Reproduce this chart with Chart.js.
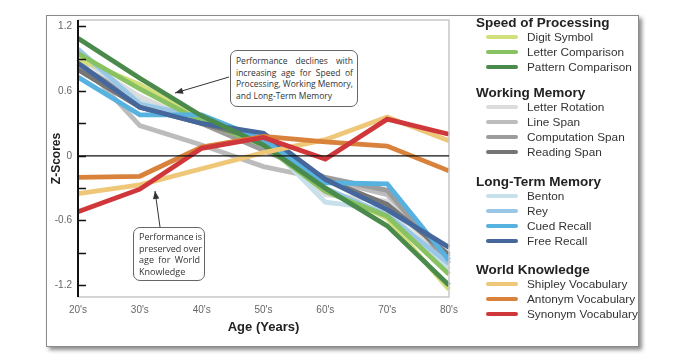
<!DOCTYPE html>
<html><head><meta charset="utf-8">
<script src="https://cdn.jsdelivr.net/npm/chart.js@4"></script>
<style>
html,body{margin:0;padding:0;background:#fff;}
#wrap{position:relative;width:700px;height:355px;overflow:hidden;font-family:"Liberation Sans",Arial,sans-serif;}
#frame{position:absolute;left:46px;top:15px;width:591px;height:330px;border:1px solid #8a8a8a;box-shadow:3px 3px 4px rgba(0,0,0,0.45);background:#fff;}
canvas{position:absolute;left:0;top:0;}
.note{position:absolute;border:1px solid #666;border-radius:7px;background:#fff;font-family:"Open Sans","Liberation Sans",sans-serif;font-size:8.5px;line-height:11.7px;color:#333;box-sizing:border-box;}
.note div{display:flex;justify-content:space-between;white-space:nowrap;height:11.7px;}
.note div span{margin-right:2px;}
.note div span:last-child{margin-right:0;}
.note div.last{justify-content:flex-start;}
.note div.last span{margin-right:2.4px;}
.lg{position:absolute;left:476px;color:#222;}
.gt{position:absolute;font-weight:bold;font-size:13.5px;line-height:16px;white-space:nowrap;}
.it{position:absolute;font-size:11.8px;line-height:14px;white-space:nowrap;padding-left:51px;color:#333;}
.sw{position:absolute;left:10px;top:5px;width:32px;height:4px;border-radius:2px;}
</style></head>
<body><div id="wrap">
<div id="frame"></div>
<canvas id="c" width="700" height="355"></canvas>
<div class="note" style="left:230px;top:50px;width:128px;height:57px;padding:4px 4px 0 5px;">
<div>Performance declines with</div><div>increasing age for Speed of</div><div>Processing, Working Memory,</div><div class="last">and Long-Term Memory</div></div>
<div class="note" style="left:133px;top:227px;width:72px;height:54px;padding:3px 4px 0 5px;font-size:9px;">
<div>Performance is</div><div>preserved over</div><div>age for World</div><div class="last">Knowledge</div></div>
<div id="legend"></div>
</div>
<script>
const ages = ["20's","30's","40's","50's","60's","70's","80's"];
const yTickValues = [-1.2,-0.9,-0.6,-0.3,0,0.3,0.6,0.9,1.2];
const yTickLabels = ["-1.2","","-0.6","","0","","0.6","","1.2"];

const digitSymbol       = [0.90, 0.66, 0.34, 0.12, -0.30, -0.58, -1.24];
const letterComparison  = [0.95, 0.62, 0.32, 0.10, -0.33, -0.56, -1.10];
const patternComparison = [1.09, 0.72, 0.37, 0.10, -0.30, -0.65, -1.20];

const letterRotation    = [0.91, 0.55, 0.30, 0.12, -0.36, -0.42, -1.00];
const lineSpan          = [0.90, 0.28, 0.10, -0.10, -0.22, -0.36, -0.94];
const computationSpan   = [0.85, 0.50, 0.30, 0.05, -0.20, -0.32, -1.00];
const readingSpan       = [0.80, 0.45, 0.30, 0.15, -0.22, -0.45, -0.92];

const benton            = [0.95, 0.50, 0.32, 0.15, -0.43, -0.50, -1.05];
const rey               = [0.99, 0.48, 0.36, 0.12, -0.30, -0.55, -1.00];
const cuedRecall        = [0.73, 0.38, 0.38, 0.15, -0.25, -0.26, -0.97];
const freeRecall        = [0.86, 0.45, 0.30, 0.21, -0.22, -0.50, -0.85];

const shipley           = [-0.35, -0.27, -0.12, 0.03, 0.15, 0.36, 0.14];
const antonym           = [-0.20, -0.19, 0.08, 0.18, 0.13, 0.09, -0.14];
const synonym           = [-0.52, -0.31, 0.07, 0.17, -0.03, 0.34, 0.20];

const groups = [
  {title:"Speed of Processing", y:23, items:[
    {label:"Digit Symbol", data:digitSymbol, color:"#d3df7c"},
    {label:"Letter Comparison", data:letterComparison, color:"#88c263"},
    {label:"Pattern Comparison", data:patternComparison, color:"#4a8a4c"}]},
  {title:"Working Memory", y:93, items:[
    {label:"Letter Rotation", data:letterRotation, color:"#dcdcdc"},
    {label:"Line Span", data:lineSpan, color:"#bcbcbc"},
    {label:"Computation Span", data:computationSpan, color:"#9c9c9c"},
    {label:"Reading Span", data:readingSpan, color:"#767676"}]},
  {title:"Long-Term Memory", y:182, items:[
    {label:"Benton", data:benton, color:"#c8e0ea"},
    {label:"Rey", data:rey, color:"#9ac7e5"},
    {label:"Cued Recall", data:cuedRecall, color:"#58b2e0"},
    {label:"Free Recall", data:freeRecall, color:"#45679c"}]},
  {title:"World Knowledge", y:270, items:[
    {label:"Shipley Vocabulary", data:shipley, color:"#efc778"},
    {label:"Antonym Vocabulary", data:antonym, color:"#d9823c"},
    {label:"Synonym Vocabulary", data:synonym, color:"#d0373a"}]}
];

document.querySelectorAll('.note div').forEach(d => {
  const words = d.textContent.trim().split(/\s+/);
  d.textContent = '';
  words.forEach(w => { const s = document.createElement('span'); s.textContent = w; d.appendChild(s); });
});

const lg = document.getElementById('legend');
groups.forEach(g => {
  const t = document.createElement('div');
  t.className = 'gt lg'; t.style.top = (g.y - 8) + 'px'; t.textContent = g.title;
  lg.appendChild(t);
  g.items.forEach((it, i) => {
    const d = document.createElement('div');
    d.className = 'it lg';
    d.style.top = (g.y + 14 + i * 15 - 7) + 'px';
    d.textContent = it.label;
    const s = document.createElement('span');
    s.className = 'sw'; s.style.background = it.color;
    d.appendChild(s);
    lg.appendChild(d);
  });
});

const drawOrder = [
  groups[3].items[2], groups[3].items[1], groups[3].items[0],
  groups[0].items[2], groups[2].items[3], groups[2].items[2],
  groups[1].items[3], groups[0].items[1], groups[2].items[1],
  groups[0].items[0], groups[2].items[0], groups[1].items[2],
  groups[1].items[1], groups[1].items[0]
];

const frame = {
  id:'frame',
  afterDraw(chart){
    const ctx = chart.ctx, a = chart.chartArea, y = chart.scales.y;
    ctx.save();
    ctx.strokeStyle = '#c8c8c8'; ctx.lineWidth = 1.5;
    ctx.beginPath();
    ctx.moveTo(a.left, a.top); ctx.lineTo(a.right, a.top); ctx.lineTo(a.right, a.bottom); ctx.lineTo(a.left, a.bottom);
    ctx.stroke();
    const z = y.getPixelForValue(0);
    ctx.strokeStyle = '#111'; ctx.lineWidth = 1.3;
    ctx.beginPath(); ctx.moveTo(a.left, z); ctx.lineTo(a.right, z); ctx.stroke();
    ctx.strokeStyle = '#111'; ctx.lineWidth = 2;
    ctx.beginPath(); ctx.moveTo(a.left, a.top); ctx.lineTo(a.left, a.bottom); ctx.stroke();
    yTickValues.forEach(v => {
      const p = Math.round(y.getPixelForValue(v)) + 0.5;
      ctx.lineWidth = 1.5;
      ctx.beginPath(); ctx.moveTo(a.left, p); ctx.lineTo(a.left + 8, p); ctx.stroke();
    });
    function arrow(x1,y1,x2,y2){
      ctx.strokeStyle = '#333'; ctx.fillStyle = '#333'; ctx.lineWidth = 1;
      ctx.beginPath(); ctx.moveTo(x1,y1); ctx.lineTo(x2,y2); ctx.stroke();
      const ang = Math.atan2(y2-y1, x2-x1), L = 8, W = 3.2;
      ctx.beginPath();
      ctx.moveTo(x2,y2);
      ctx.lineTo(x2 - L*Math.cos(ang) + W*Math.sin(ang), y2 - L*Math.sin(ang) - W*Math.cos(ang));
      ctx.lineTo(x2 - L*Math.cos(ang) - W*Math.sin(ang), y2 - L*Math.sin(ang) + W*Math.cos(ang));
      ctx.closePath(); ctx.fill();
    }
    arrow(229, 77, 175, 93);
    arrow(160, 227, 155, 191);
    ctx.restore();
  }
};

new Chart(document.getElementById('c'), {
  type:'line',
  data:{
    labels: ages,
    datasets: drawOrder.map(it => ({
      label: it.label, data: it.data, borderColor: it.color, backgroundColor: it.color,
      borderWidth: 4.8, pointRadius: 0, tension: 0, fill: false,
      borderCapStyle:'butt', borderJoinStyle:'miter'
    }))
  },
  options:{
    responsive:false, animation:false,
    devicePixelRatio:1,
    layout:{padding:{left:40, right:251, top:20, bottom:20}},
    plugins:{legend:{display:false}, tooltip:{enabled:false}},
    scales:{
      x:{
        offset:false,
        grid:{display:false, drawTicks:false},
        border:{display:false},
        ticks:{color:'#666', font:{family:'Liberation Sans', size:10}, padding:7, maxRotation:0, autoSkip:false},
        title:{display:true, text:'Age (Years)', color:'#222', font:{family:'Liberation Sans', size:13, weight:'bold'}, padding:{top:4,bottom:0}},
        afterFit(s){ s.height = 38; }
      },
      y:{
        min:-1.31, max:1.26,
        grid:{display:false, drawTicks:false},
        border:{display:false},
        afterBuildTicks(s){ s.ticks = yTickValues.map(v => ({value:v})); },
        ticks:{color:'#666', font:{family:'Liberation Sans', size:10}, padding:6,
          callback:(v, i) => yTickLabels[yTickValues.indexOf(Math.round(v*10)/10)] },
        title:{display:true, text:'Z-Scores', color:'#222', font:{family:'Liberation Sans', size:12, weight:'bold'}, padding:{top:9,bottom:0}},
        afterFit(s){ s.width = 38; }
      }
    }
  },
  plugins:[frame]
});
</script>
</body></html>
